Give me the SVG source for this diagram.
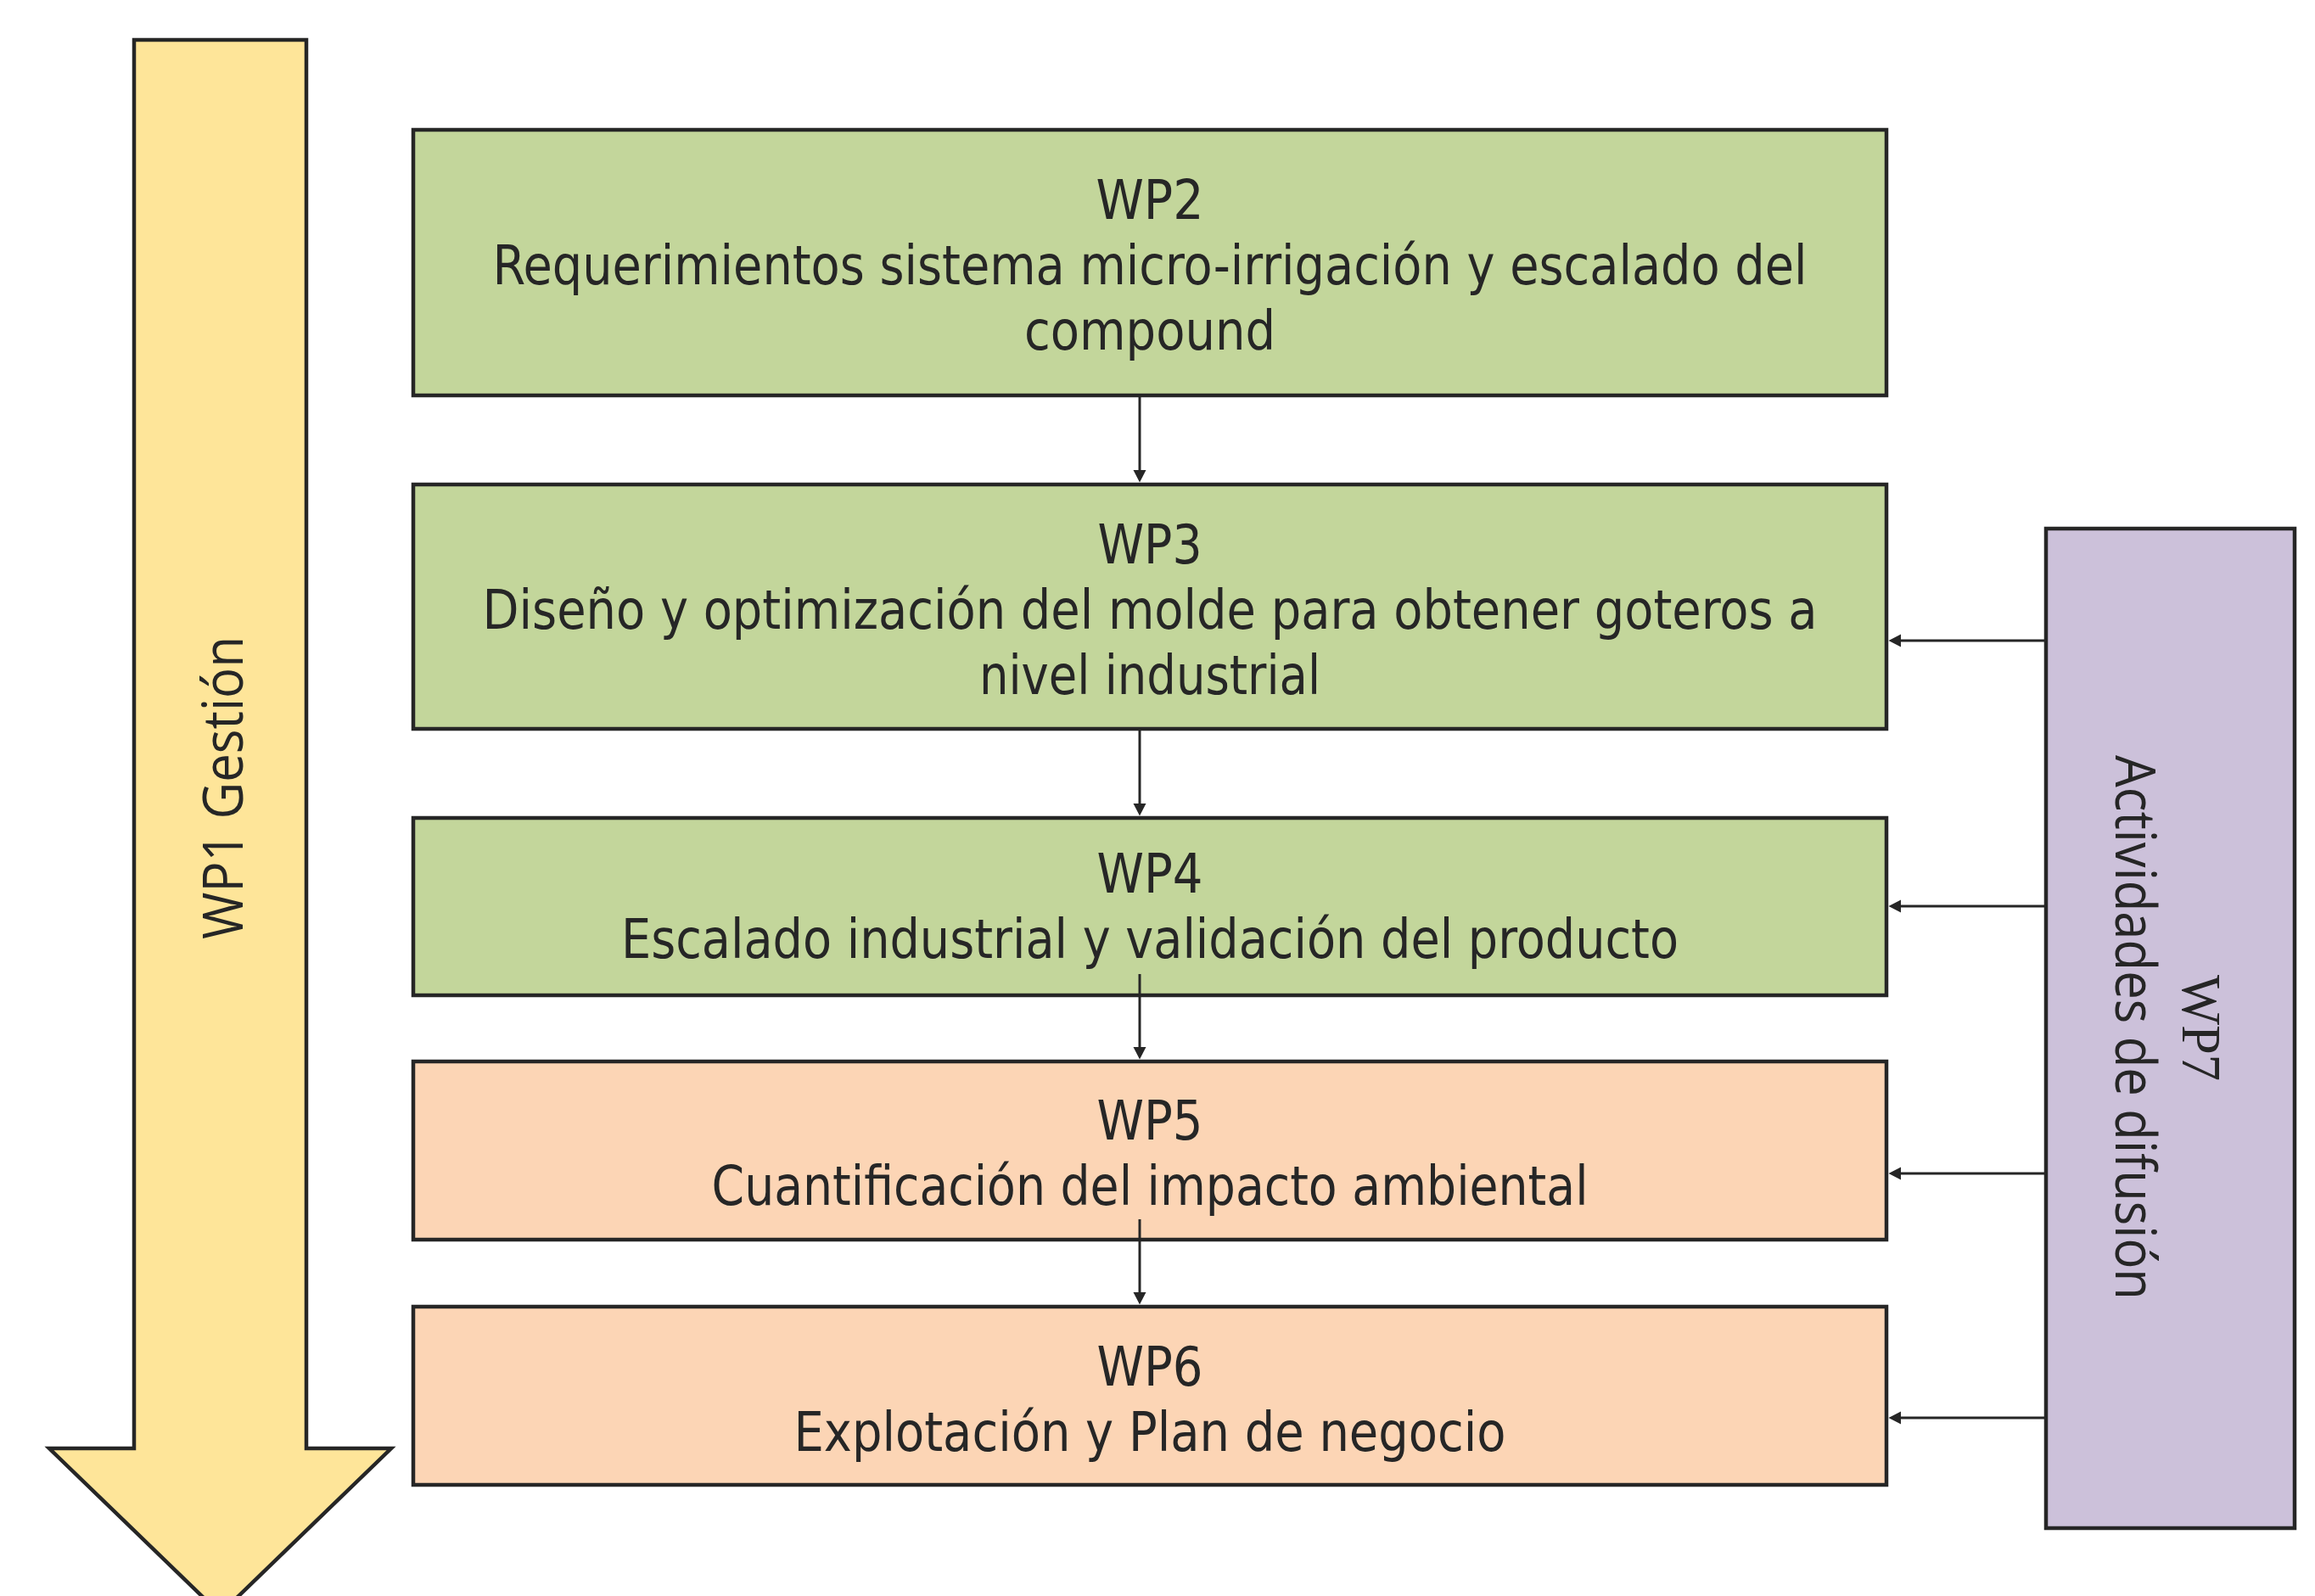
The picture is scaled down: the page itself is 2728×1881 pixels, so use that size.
<svg xmlns="http://www.w3.org/2000/svg" width="2728" height="1881" viewBox="0 0 2728 1881">
<defs>
<style>
.box{stroke:#262626;stroke-width:4.5}
.green{fill:#C3D69B}
.peach{fill:#FCD5B5}
.purple{fill:#CCC1DA}
.yellow{fill:#FEE599;stroke:#262626;stroke-width:4.5;stroke-linejoin:miter}
.t{font-family:"DejaVu Sans Condensed","DejaVu Sans",sans-serif;font-size:64px;fill:#262626;text-anchor:middle}
.t2{font-family:"Open Sans","Noto Sans",sans-serif;font-size:66px;fill:#262626;text-anchor:middle}
.ts{font-family:"Liberation Serif",serif;font-size:65px;fill:#262626;text-anchor:middle}
.conn{stroke:#262626;stroke-width:3;fill:none;marker-end:url(#ah)}
</style>
<marker id="ah" markerUnits="userSpaceOnUse" markerWidth="15" markerHeight="16" viewBox="0 0 15 16" refX="4" refY="8" orient="auto">
<path d="M0,0.5 L14.5,8 L0,15.5 z" fill="#262626"/>
</marker>
</defs>
<rect width="2728" height="1881" fill="#ffffff"/>

<g id="wp1">
<polygon class="yellow" points="158,47 361,47 361,1707 461,1707 259.5,1902 58,1707 158,1707"/>
<text class="t2" x="286" y="928.5" transform="rotate(-90 286 928.5)" textLength="357" lengthAdjust="spacingAndGlyphs">WP1 Gestión</text>
</g>

<g id="wp2">
<rect class="box green" x="487" y="153" width="1736" height="313"/>
<text class="t" x="1355" y="258" textLength="127" lengthAdjust="spacingAndGlyphs">WP2</text>
<text class="t" x="1355" y="335" textLength="1549" lengthAdjust="spacingAndGlyphs">Requerimientos sistema micro-irrigación y escalado del</text>
<text class="t" x="1355" y="412" textLength="296" lengthAdjust="spacingAndGlyphs">compound</text>
</g>

<g id="wp3">
<rect class="box green" x="487" y="571" width="1736" height="288"/>
<text class="t" x="1355" y="664" textLength="123" lengthAdjust="spacingAndGlyphs">WP3</text>
<text class="t" x="1355" y="741" textLength="1573" lengthAdjust="spacingAndGlyphs">Diseño y optimización del molde para obtener goteros a</text>
<text class="t" x="1355" y="818" textLength="402" lengthAdjust="spacingAndGlyphs">nivel industrial</text>
</g>

<g id="wp4">
<rect class="box green" x="487" y="964" width="1736" height="209"/>
<text class="t" x="1355" y="1052" textLength="125" lengthAdjust="spacingAndGlyphs">WP4</text>
<text class="t" x="1355" y="1129" textLength="1246" lengthAdjust="spacingAndGlyphs">Escalado industrial y validación del producto</text>
</g>

<g id="wp5">
<rect class="box peach" x="487" y="1251" width="1736" height="210"/>
<text class="t" x="1355" y="1343" textLength="125" lengthAdjust="spacingAndGlyphs">WP5</text>
<text class="t" x="1355" y="1420" textLength="1033" lengthAdjust="spacingAndGlyphs">Cuantificación del impacto ambiental</text>
</g>

<g id="wp6">
<rect class="box peach" x="487" y="1540" width="1736" height="210"/>
<text class="t" x="1355" y="1633" textLength="125" lengthAdjust="spacingAndGlyphs">WP6</text>
<text class="t" x="1355" y="1710" textLength="839" lengthAdjust="spacingAndGlyphs">Explotación y Plan de negocio</text>
</g>

<g id="wp7">
<rect class="box purple" x="2411" y="623" width="293" height="1178"/>
<text class="ts" x="2572" y="1211.5" transform="rotate(90 2572 1211.5)" textLength="125" lengthAdjust="spacingAndGlyphs">WP7</text>
<text class="t2" x="2493" y="1211" transform="rotate(90 2493 1211)" textLength="642" lengthAdjust="spacingAndGlyphs">Actividades de difusión</text>
</g>

<g id="connectors">
<line class="conn" x1="1343" y1="468" x2="1343" y2="558"/>
<line class="conn" x1="1343" y1="861" x2="1343" y2="951"/>
<line class="conn" x1="1343" y1="1148" x2="1343" y2="1238"/>
<line class="conn" x1="1343" y1="1437" x2="1343" y2="1527"/>
<line class="conn" x1="2409" y1="755" x2="2236" y2="755"/>
<line class="conn" x1="2409" y1="1068" x2="2236" y2="1068"/>
<line class="conn" x1="2409" y1="1383" x2="2236" y2="1383"/>
<line class="conn" x1="2409" y1="1671" x2="2236" y2="1671"/>
</g>
</svg>
